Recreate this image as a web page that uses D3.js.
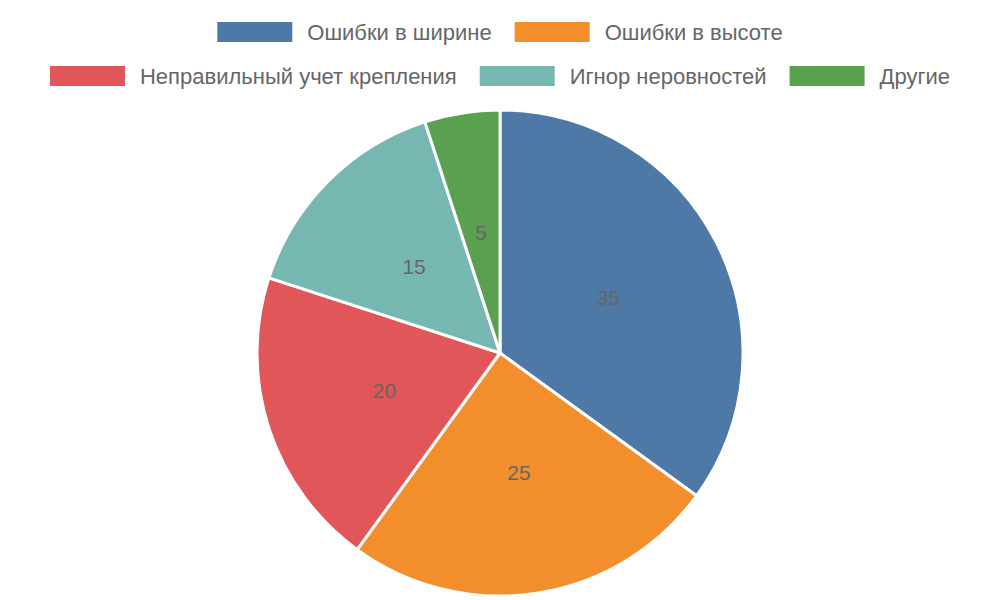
<!DOCTYPE html>
<html>
<head>
<script src="https://cdn.jsdelivr.net/npm/d3@7"></script>
<style>body{margin:0;background:#fff;}</style>
</head>
<body>
<div id="viz"></div>
<script>
var categories = ["Ошибки в ширине", "Ошибки в высоте", "Неправильный учет крепления", "Игнор неровностей", "Другие"];
var values = [35, 25, 20, 15, 5];
var colors = ["#4e79a7", "#f28e2b", "#e15759", "#76b7b2", "#59a14f"];
var legendRows = [[0, 1], [2, 3, 4]];

var w = 1000, h = 600;
var cx = 500, cy = 353, r = 243;
var svg = d3.select("#viz").append("svg").attr("width", w).attr("height", h)
    .style("font-family", "'Liberation Sans', Arial, sans-serif");

var pie = d3.pie().sort(null).value(function(d){ return d; });
var arc = d3.arc().innerRadius(0).outerRadius(r);
var labelArc = d3.arc().innerRadius(r * 0.5).outerRadius(r * 0.5);
var g = svg.append("g").attr("transform", "translate(" + cx + "," + cy + ")");
var arcs = pie(values);
g.selectAll("path").data(arcs).enter().append("path")
    .attr("d", arc).attr("fill", function(d, i){ return colors[i]; })
    .attr("stroke", "#fff").attr("stroke-width", 3);
g.selectAll("text").data(arcs).enter().append("text")
    .attr("transform", function(d){ return "translate(" + labelArc.centroid(d) + ")"; })
    .attr("text-anchor", "middle").attr("dy", "0.35em")
    .attr("fill", "#666").style("font-size", "21px")
    .text(function(d){ return d.data; });

// legend
var sw = 75, sh = 20, pad = 15, gap = 23;
legendRows.forEach(function(row, ri){
    var y = 32 + ri * 44;
    var lg = svg.append("g");
    var x = 0;
    row.forEach(function(i){
        var it = lg.append("g").attr("transform", "translate(" + x + ",0)");
        it.append("rect").attr("x", 0).attr("y", y - sh / 2).attr("width", sw).attr("height", sh).attr("fill", colors[i]);
        var t = it.append("text").attr("x", sw + pad).attr("y", y).attr("dy", "0.35em")
            .attr("fill", "#666").style("font-size", "22px").text(categories[i]);
        x += sw + pad + t.node().getComputedTextLength() + gap;
    });
    var total = x - gap;
    lg.attr("transform", "translate(" + ((w - total) / 2) + ",0)");
});
</script>
</body>
</html>
